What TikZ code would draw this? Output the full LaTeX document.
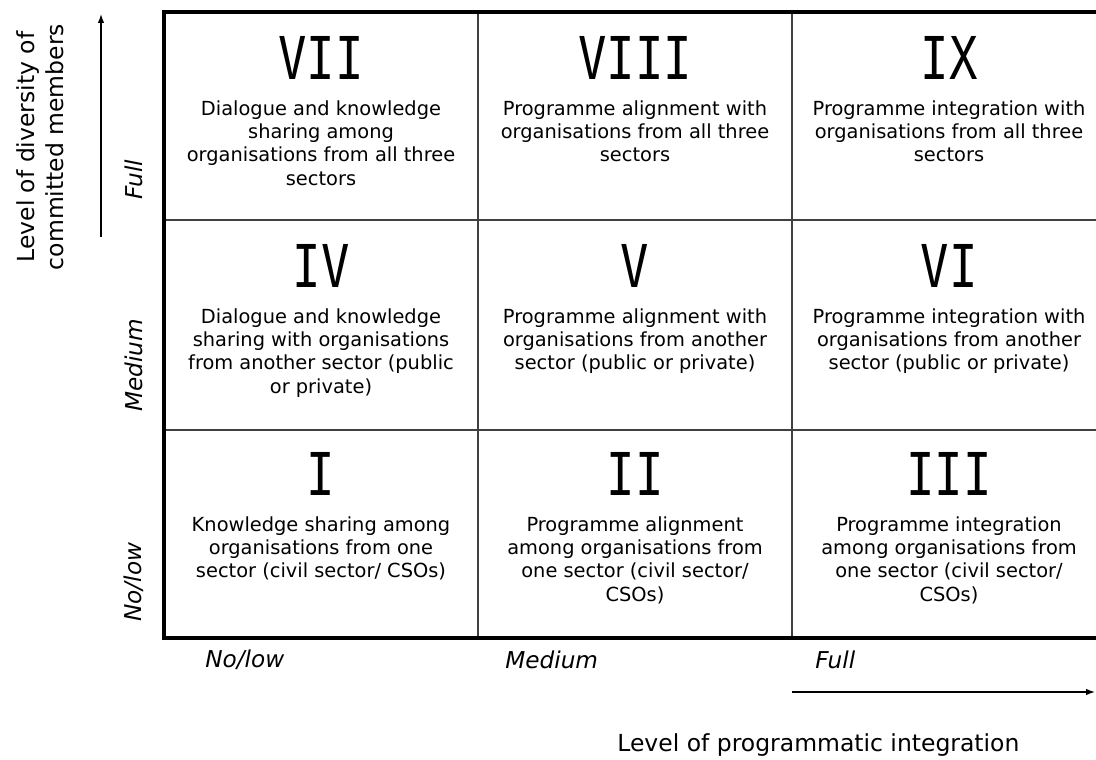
\documentclass[tikz,border=0pt]{standalone}
\usepackage{fontspec}
\setmainfont{DejaVu Sans}
\newfontfamily\numfont[FakeStretch=0.8]{DejaVu Sans Mono}
\usepackage{tikz}
\usetikzlibrary{positioning}
\usetikzlibrary{arrows.meta}
\usetikzlibrary{calc}
\tikzset{
  numlabel/.style={anchor=base,inner sep=0pt,font=\numfont\fontsize{42}{44}\selectfont},
  celltext/.style={anchor=north,align=center,inner sep=0pt,font=\fontsize{13.8}{16.6}\selectfont},
  levellabel/.style={anchor=west,inner sep=0pt,font=\itshape\fontsize{16.5}{18}\selectfont},
  axistitle/.style={inner sep=0pt,align=center,font=\fontsize{16.7}{20.3}\selectfont},
  axisarrow/.style={line width=1pt,-{Latex[length=2.2mm,width=1.6mm]}},
  innerline/.style={line width=1pt,draw=black!75},
  outerline/.style={line width=2.6pt}
}

\begin{document}
\begin{tikzpicture}
                    \useasboundingbox (0,0) rectangle (27.4,19);
                    % the grid
                    \coordinate (ngrid1) at (4.1,3.05);
                    \coordinate (ngrid3) at (27.65,18.7);
                    \draw [innerline] (11.95,3.05) -- (11.95,18.7);
                    \draw [innerline] (19.8,3.05)  -- (19.8,18.7);
                    \draw [innerline] (4.1,8.25)   -- (27.65,8.25);
                    \draw [innerline] (4.1,13.5)   -- (27.65,13.5);
                    \draw [outerline] (ngrid1) rectangle (ngrid3);
                    % top row
                    \node [numlabel] at ( 8.025,17.0) (nVII)  {VII};
                    \node [celltext,below=0.5cm of nVII]  (nVIIt)
                    {Dialogue and knowledge\\sharing among\\organisations from all three\\sectors};
                    \node [numlabel] at (15.875,17.0) (nVIII) {VIII};
                    \node [celltext,below=0.5cm of nVIII] (nVIIIt)
                    {Programme alignment with\\organisations from all three\\sectors};
                    \node [numlabel] at (23.725,17.0) (nIX)   {IX};
                    \node [celltext,below=0.5cm of nIX]   (nIXt)
                    {Programme integration with\\organisations from all three\\sectors};
                    % middle row
                    \node [numlabel] at ( 8.025,11.8) (nIV)   {IV};
                    \node [celltext,below=0.5cm of nIV]   (nIVt)
                    {Dialogue and knowledge\\sharing with organisations\\from another sector (public\\or private)};
                    \node [numlabel] at (15.875,11.8) (nV)    {V};
                    \node [celltext,below=0.5cm of nV]    (nVt)
                    {Programme alignment with\\organisations from another\\sector (public or private)};
                    \node [numlabel] at (23.725,11.8) (nVI)   {VI};
                    \node [celltext,below=0.5cm of nVI]   (nVIt)
                    {Programme integration with\\organisations from another\\sector (public or private)};
                    % bottom row
                    \node [numlabel] at ( 8.025,6.6)  (nI)    {I};
                    \node [celltext,below=0.5cm of nI]    (nIt)
                    {Knowledge sharing among\\organisations from one\\sector (civil sector/ CSOs)};
                    \node [numlabel] at (15.875,6.6)  (nII)   {II};
                    \node [celltext,below=0.5cm of nII]   (nIIt)
                    {Programme alignment\\among organisations from\\one sector (civil sector/\\CSOs)};
                    \node [numlabel] at (23.725,6.6)  (nIII)  {III};
                    \node [celltext,below=0.5cm of nIII]  (nIIIt)
                    {Programme integration\\among organisations from\\one sector (civil sector/\\CSOs)};
                    % levels on the left
                    \node [levellabel,rotate=90] at (3.35,14.0) (nyFull) {Full};
                    \node [levellabel,rotate=90] at (3.35,8.7)  (nyMed)  {Medium};
                    \node [levellabel,rotate=90] at (3.35,3.45) (nyLow)  {No/low};
                    % levels at the bottom
                    \node [levellabel] at ( 5.125,2.5) (nxLow)  {No/low};
                    \node [levellabel] at (12.625,2.5) (nxMed)  {Medium};
                    \node [levellabel] at (20.375,2.5) (nxFull) {Full};
                    % arrows
                    \coordinate (nyArr1) at (2.525,13.075);
                    \coordinate (nyArr3) at (2.525,18.65);
                    \draw [axisarrow] (nyArr1) -- (nyArr3);
                    \coordinate (nxArr1) at (19.8,1.7);
                    \coordinate (nxArr3) at (27.375,1.7);
                    \draw [axisarrow] (nxArr1) -- (nxArr3);
                    % axis titles
                    \node [axistitle,rotate=90] at (1.0,15.325) (nytitle)
                    {Level of diversity of\\committed members};
                    \node [axistitle,anchor=base] at (20.46,0.2) (nxtitle)
                    {Level of programmatic integration};
                \end{tikzpicture}
\end{document}
